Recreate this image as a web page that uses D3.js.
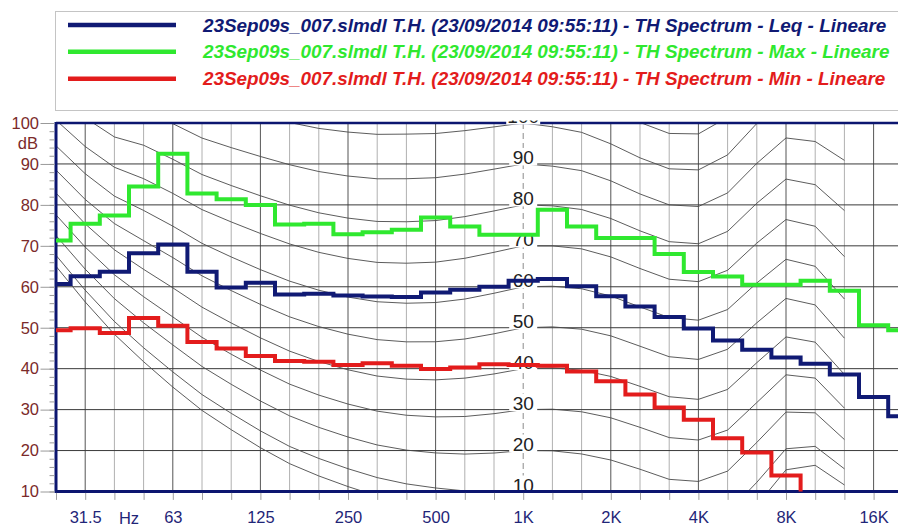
<!DOCTYPE html>
<html>
<head>
<meta charset="utf-8">
<script src="https://cdn.jsdelivr.net/npm/d3@7"></script>
<style>
  html, body { margin: 0; padding: 0; background: #fff; }
  svg { display: block; font-family: "Liberation Sans", Arial, sans-serif; }
</style>
</head>
<body>
<svg id="chart" width="898" height="526"></svg>
<script>
"use strict";

// third-octave bands 25 Hz .. 20 kHz
const bands = ["25", "31.5", "40", "50", "63", "80", "100", "125", "160", "200", "250", "315", "400", "500", "630", "800",
  "1K", "1.25K", "1.6K", "2K", "2.5K", "3.15K", "4K", "5K", "6.3K", "8K", "10K", "12.5K", "16K", "20K"];

// spectra (dB), one value per band
const leq = [60.7, 62.6, 63.7, 68.2, 70.3, 63.7, 59.8, 61.0, 58.1, 58.3, 57.9, 57.6, 57.5, 58.6, 59.3, 60.0,
  61.5, 61.9, 60.1, 57.7, 55.2, 52.6, 49.8, 46.9, 44.6, 42.7, 41.2, 38.6, 33.1, 28.4];
const lmax = [71.3, 75.4, 77.4, 84.5, 92.5, 82.8, 81.4, 80.0, 75.2, 75.4, 72.8, 73.3, 73.9, 76.9, 74.7, 72.7,
  72.7, 78.8, 74.7, 71.9, 71.9, 68.0, 63.6, 62.5, 60.5, 60.5, 61.5, 59.0, 50.6, 49.4];
const lmin = [49.4, 49.9, 48.7, 52.4, 50.5, 46.5, 44.9, 43.1, 41.9, 41.7, 40.9, 41.3, 40.7, 39.9, 40.3, 41.1,
  40.9, 40.7, 39.3, 36.9, 33.7, 30.5, 27.5, 23.0, 19.5, 13.9, 7.0, 6.0, 5.0, 5.0];

const series_names = [
  "23Sep09s_007.slmdl T.H. (23/09/2014 09:55:11) - TH Spectrum - Leq - Lineare",
  "23Sep09s_007.slmdl T.H. (23/09/2014 09:55:11) - TH Spectrum - Max - Lineare",
  "23Sep09s_007.slmdl T.H. (23/09/2014 09:55:11) - TH Spectrum - Min - Lineare"
];
const series_colors = ["#101a74", "#2fe82f", "#e31c1c"];

// equal loudness contours, ISO 226:1987 table (20 Hz .. 12.5 kHz)
const iso_band = [-1, 0, 1, 2, 3, 4, 5, 6, 7, 8, 9, 10, 11, 12, 13, 14, 15, 16, 17, 18, 19, 20, 21, 22, 23, 24, 25, 26, 27];
const iso_af = [2.347, 2.190, 2.050, 1.879, 1.724, 1.579, 1.512, 1.466, 1.426, 1.394, 1.372, 1.344, 1.304, 1.256, 1.203,
  1.135, 1.062, 1.000, 0.967, 0.943, 0.932, 0.933, 0.937, 0.952, 0.974, 1.027, 1.135, 1.266, 1.501];
const iso_bf = [0.00561, 0.00527, 0.00481, 0.00404, 0.00383, 0.00286, 0.00259, 0.00257, 0.00256, 0.00255, 0.00254,
  0.00248, 0.00229, 0.00201, 0.00162, 0.00111, 0.00052, 0, -0.00039, -0.00067, -0.00092, -0.00105, -0.00104,
  -0.00088, -0.00055, 0, 0.00089, 0.00211, 0.00488];
const iso_tf = [74.3, 65.0, 56.3, 48.4, 41.7, 35.5, 29.8, 25.1, 20.7, 16.8, 13.8, 11.2, 8.9, 7.2, 6.0, 5.0, 4.4, 4.2,
  3.7, 2.6, 1.0, -1.2, -3.6, -3.9, -1.1, 6.6, 15.3, 16.4, 11.6];
const phons = [4.2, 10, 20, 30, 40, 50, 60, 70, 80, 90, 100, 110];
const phon_labels = [10, 20, 30, 40, 50, 60, 70, 80, 90, 100];

// axis labels
const x_tick_bands = [1, 4, 7, 10, 13, 16, 19, 22, 25, 28];
const x_tick_labels = ["31.5", "63", "125", "250", "500", "1K", "2K", "4K", "8K", "16K"];
const y_ticks = [10, 20, 30, 40, 50, 60, 70, 80, 90, 100];

// ---------------------------------------------------------------
const W = 898, H = 526;
const pl = 56, pt = 123, pb = 491.5;
const band_w = 29.2;

const fc = bands.map((d, i) => 1000 * Math.pow(2, (i - 16) / 3));
const fAt = i => 1000 * Math.pow(2, (i - 16) / 3);

const x = d3.scaleLog().domain([fc[0], fc[fc.length - 1]]).range([pl, pl + (fc.length - 1) * band_w]);
const y = d3.scaleLinear().domain([10, 100]).range([pb, pt]);

const svg = d3.select("#chart");
svg.append("rect").attr("width", W).attr("height", H).attr("fill", "#fff");

const defs = svg.append("defs");
defs.append("clipPath").attr("id", "plotclip")
  .append("rect").attr("x", pl).attr("y", pt).attr("width", W - pl + 10).attr("height", pb - pt);
defs.append("clipPath").attr("id", "labelclip")
  .append("rect").attr("x", pl).attr("y", pt - 2.5).attr("width", W - pl).attr("height", pb - pt + 1);

// legend
const lg = svg.append("g");
lg.append("rect")
  .attr("x", 55.5).attr("y", 11.5).attr("width", 900).attr("height", 99)
  .attr("fill", "#fff").attr("stroke", "#c4c4c4").attr("stroke-width", 1);

const leg_y = [25, 51.8, 78.7];
series_names.forEach((name, i) => {
  lg.append("line")
    .attr("x1", 68).attr("x2", 176).attr("y1", leg_y[i]).attr("y2", leg_y[i])
    .attr("stroke", series_colors[i]).attr("stroke-width", 4.5);
  lg.append("text")
    .attr("class", "legtext")
    .attr("x", 203).attr("y", leg_y[i] + 6.5)
    .attr("font-size", 18)
    .attr("font-style", "italic")
    .attr("font-weight", "bold")
    .attr("fill", series_colors[i])
    .text(name);
});
// fit legend text width to the picture
const lt = lg.selectAll(".legtext");
const len0 = lt.node().getComputedTextLength();
lt.attr("font-size", 18 * 684 / len0);

// grid
const grid = svg.append("g").attr("clip-path", "url(#plotclip)");
fc.forEach((f, i) => {
  const oct = (i - 1) % 3 === 0;
  const ln = grid.append("line")
    .attr("x1", x(f)).attr("x2", x(f)).attr("y1", pt).attr("y2", pb)
    .attr("stroke-width", 1);
  if (i === 16) ln.attr("stroke", "#8a8a8a").attr("stroke-dasharray", "6,4");
  else ln.attr("stroke", oct ? "#555" : "#b0b0b0");
});
y_ticks.filter(d => d > 10 && d < 100).forEach(d => {
  grid.append("line")
    .attr("x1", pl).attr("x2", W + 10).attr("y1", y(d)).attr("y2", y(d))
    .attr("stroke", "#3a3a3a").attr("stroke-width", 1);
});

// equal loudness contours
const contour = d3.line().x(d => d[0]).y(d => d[1]);
const cg = svg.append("g").attr("clip-path", "url(#plotclip)");
phons.forEach(p => {
  const pts = iso_band.map((b, j) => {
    const r = p - 4.2;
    const lf = iso_tf[j] + r / (iso_af[j] - iso_bf[j] * r);
    return [x(fAt(b)), y(lf)];
  });
  cg.append("path")
    .attr("d", contour(pts))
    .attr("fill", "none")
    .attr("stroke", "#4a4a4a")
    .attr("stroke-width", 0.9);
});

// frame
const fr = svg.append("g").attr("stroke", "#0c1670").attr("fill", "none");
fr.append("line").attr("x1", pl).attr("x2", W + 5).attr("y1", pt).attr("y2", pt).attr("stroke-width", 2.5);
fr.append("line").attr("x1", pl).attr("x2", W + 5).attr("y1", pb).attr("y2", pb).attr("stroke-width", 2.8);
fr.append("line").attr("x1", pl).attr("x2", pl).attr("y1", pt - 1).attr("y2", pb + 1.4).attr("stroke-width", 3);

// contour labels at 1 kHz
const lbl = svg.append("g").attr("clip-path", "url(#labelclip)");
const x1k = x(fc[16]);
phon_labels.forEach(p => {
  const g = lbl.append("g").attr("transform", `translate(${x1k},${y(p)})`);
  g.append("rect")
    .attr("x", p >= 100 ? -17 : -14).attr("y", -16)
    .attr("width", p >= 100 ? 34 : 28).attr("height", 17.5)
    .attr("fill", "#fff");
  g.append("text")
    .attr("text-anchor", "middle")
    .attr("y", 0)
    .attr("font-size", 19)
    .attr("fill", "#222")
    .text(p);
});

// spectra as step lines
const step = d3.line()
  .x((d, i) => x(fc[i]))
  .y(d => y(d))
  .curve(d3.curveStep);
const sg = svg.append("g").attr("clip-path", "url(#plotclip)");
[leq, lmax, lmin].forEach((s, k) => {
  sg.append("path")
    .attr("d", step(s))
    .attr("fill", "none")
    .attr("stroke", series_colors[k])
    .attr("stroke-width", 4)
    .attr("stroke-linejoin", "miter");
});

// y axis
const yMinor = d3.range(10, 101, 2);
svg.append("g")
  .attr("transform", `translate(${pl - 1.5},0)`)
  .call(d3.axisLeft(y).tickValues(yMinor).tickSize(5).tickFormat(""))
  .call(g => g.select(".domain").remove())
  .call(g => g.selectAll(".tick line").attr("stroke", "#9a9a9a"));
svg.append("g")
  .attr("transform", `translate(${pl - 1.5},0)`)
  .call(d3.axisLeft(y).tickValues(y_ticks).tickSize(14).tickPadding(1.5))
  .call(g => g.select(".domain").remove())
  .call(g => g.selectAll(".tick line").attr("stroke", "#9a9a9a"))
  .call(g => g.selectAll(".tick text")
    .attr("font-family", "Liberation Sans, Arial, sans-serif")
    .attr("font-size", 16.5).attr("fill", "#7b2a2a"));
svg.append("text")
  .attr("x", 38).attr("y", 149)
  .attr("text-anchor", "end")
  .attr("font-size", 16.5).attr("fill", "#7b2a2a")
  .text("dB");

// x axis
svg.append("g")
  .attr("transform", `translate(0,${pb + 1.4})`)
  .call(d3.axisBottom(x).tickValues(fc).tickSize(7).tickFormat(""))
  .call(g => g.select(".domain").remove())
  .call(g => g.selectAll(".tick line").attr("stroke", "#a0a0a0"));
svg.append("g")
  .attr("transform", `translate(0,${pb})`)
  .call(d3.axisBottom(x).tickValues(x_tick_bands.map(i => fc[i])).tickSize(0).tickPadding(20)
    .tickFormat((d, i) => x_tick_labels[i]))
  .call(g => g.select(".domain").remove())
  .call(g => g.selectAll(".tick text")
    .attr("font-family", "Liberation Sans, Arial, sans-serif")
    .attr("font-size", 16.5).attr("fill", "#1f2678"));
svg.append("text")
  .attr("x", x(Math.sqrt(fc[2] * fc[3]))).attr("y", 524)
  .attr("text-anchor", "middle")
  .attr("font-size", 16.5).attr("fill", "#1f2678")
  .text("Hz");
</script>
</body>
</html>
